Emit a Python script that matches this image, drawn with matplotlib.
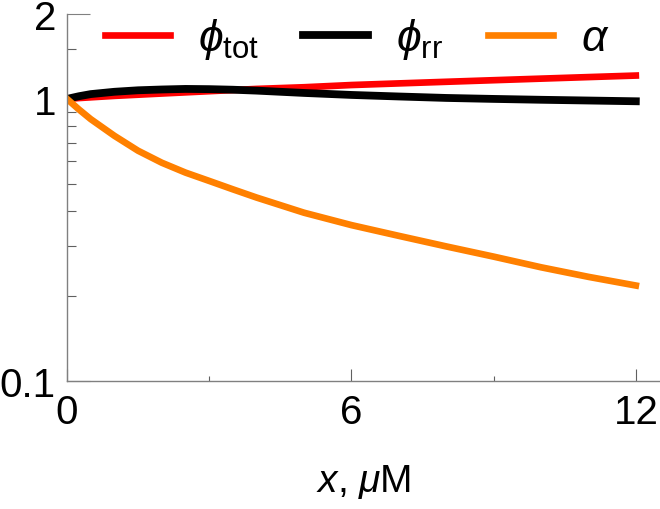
import matplotlib
matplotlib.use('Agg')
import matplotlib.pyplot as plt
from matplotlib.ticker import FixedLocator, NullFormatter

plt.rcParams['font.family'] = ['Liberation Sans', 'DejaVu Sans']
plt.rcParams['mathtext.fontset'] = 'custom'
plt.rcParams['mathtext.rm'] = 'Liberation Sans'
plt.rcParams['mathtext.it'] = 'Liberation Sans:italic'
plt.rcParams['mathtext.fallback'] = 'stixsans'

# values
x = [0, 0.25, 0.5, 1, 1.5, 2, 2.5, 3, 3.5, 4, 5, 6, 7, 8, 9, 10, 11, 12]
phi_tot = [1.0, 1.007, 1.013, 1.025, 1.035, 1.045, 1.055, 1.065, 1.075, 1.085,
           1.10, 1.12, 1.135, 1.15, 1.165, 1.18, 1.195, 1.21]
phi_rr = [1.0, 1.022, 1.04, 1.06, 1.073, 1.08, 1.085, 1.083, 1.078, 1.07,
          1.05, 1.033, 1.02, 1.008, 1.0, 0.993, 0.987, 0.981]
alpha = [1.0, 0.918, 0.848, 0.74, 0.655, 0.594, 0.548, 0.512, 0.478, 0.447,
         0.395, 0.357, 0.327, 0.300, 0.276, 0.253, 0.234, 0.218]

labels = [r'$\phi_{\mathrm{tot}}$', r'$\phi_{\mathrm{rr}}$', r'$\alpha$']
colors = ['#ff0000', '#000000', '#ff8000']

fig = plt.figure(figsize=(6.6, 5.1), dpi=100)
ax = fig.add_axes([67 / 660, 1 - 382 / 510, 1 - 67 / 660, (382 - 15) / 510])

ax.plot(x, phi_tot, color=colors[0], lw=4.8, label=labels[0])
ax.plot(x, phi_rr, color=colors[1], lw=5.6, label=labels[1])
ax.plot(x, alpha, color=colors[2], lw=4.8, label=labels[2])

ax.set_yscale('log')
ax.set_xlim(0, 12.51)
ax.set_ylim(0.1, 2)

for s in ['top', 'right']:
    ax.spines[s].set_visible(False)
for s in ['left', 'bottom']:
    ax.spines[s].set_color('#808080')
    ax.spines[s].set_linewidth(1.0)

ax.xaxis.set_major_locator(FixedLocator([0, 6, 12]))
ax.xaxis.set_minor_locator(FixedLocator([3, 9]))
ax.set_xticklabels(['0', '6', '12'])
ax.yaxis.set_major_locator(FixedLocator([0.1, 1, 2]))
ax.yaxis.set_minor_locator(FixedLocator([0.2, 0.3, 0.4, 0.5, 0.6, 0.7, 0.8, 0.9, 1.5]))
ax.set_yticklabels(['0.1', '1', '2'])
ax.yaxis.set_minor_formatter(NullFormatter())

ax.tick_params(axis='x', which='major', direction='in', length=8.6, width=0.8,
               color='#606060', labelsize=29, pad=9)
ax.tick_params(axis='x', which='minor', direction='in', length=3.6, width=0.8,
               color='#606060')
ax.tick_params(axis='y', which='major', direction='in', length=16.5, width=0.8,
               color='#808080', labelsize=29, pad=8)
ax.tick_params(axis='y', which='minor', direction='in', length=6.5, width=0.8,
               color='#606060')

ax.set_xlabel(r'$x$, $\mu$M', fontsize=28, labelpad=22)

fig.legend(loc='center', bbox_to_anchor=(357 / 660, 1 - 40 / 510), ncol=3,
           frameon=False, fontsize=32, handlelength=1.46, handletextpad=0.63,
           columnspacing=1.0, borderaxespad=0)

fig.savefig('out.png', dpi=100)
